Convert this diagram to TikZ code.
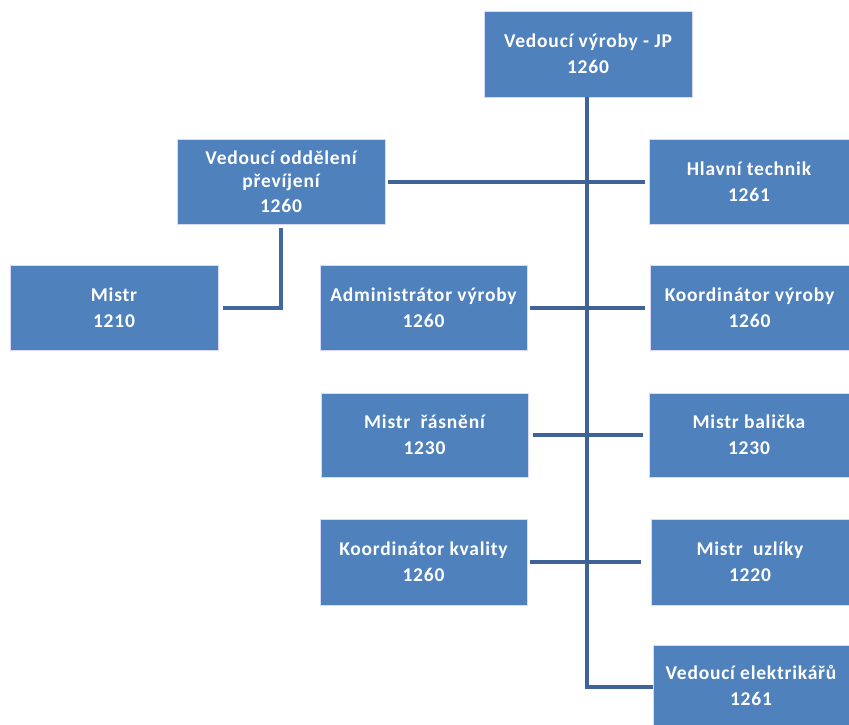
\documentclass[tikz,border=0pt]{standalone}
\usepackage{fontspec}
\setmainfont{Carlito}[LetterSpace=4]
\begin{document}
\begin{tikzpicture}[x=1pt,y=-1pt,
  box/.style={draw=white!85!blue, line width=0.6pt, fill=boxblue, text=white,
    font=\bfseries\fontsize{19.5}{26}\selectfont, align=center, inner sep=0pt},
  link/.style={draw=linkblue, line width=4pt},
]
\definecolor{boxblue}{HTML}{4F81BD}
\definecolor{linkblue}{HTML}{3F6398}
\useasboundingbox (0,0) rectangle (849,725);

% boxes
\node[box, minimum width=208, minimum height=86] (top)  at (588,54)    {Vedoucí výroby - JP\\1260};
\node[box, minimum width=208, minimum height=85] (odd)  at (281,181.5) {Vedoucí oddělení\\[-3pt]převíjení\\[-1pt]1260};
\node[box, minimum width=200, minimum height=85] (hlav) at (749,181.5) {Hlavní technik\\1261};
\node[box, minimum width=208, minimum height=85] (mis)  at (114,307.5) {Mistr\\1210};
\node[box, minimum width=207, minimum height=85] (adm)  at (423.5,307.5) {Administrátor výroby\\1260};
\node[box, minimum width=199, minimum height=85] (kvy)  at (749.5,307.5) {Koordinátor výroby\\1260};
\node[box, minimum width=207, minimum height=84] (ras)  at (424.5,435) {Mistr~ řásnění\\1230};
\node[box, minimum width=200, minimum height=84] (bal)  at (749,435) {Mistr balička\\1230};
\node[box, minimum width=207, minimum height=86] (kva)  at (423.5,562) {Koordinátor kvality\\1260};
\node[box, minimum width=198, minimum height=86] (uzl)  at (750,562) {Mistr~ uzlíky\\1220};
\node[box, minimum width=196, minimum height=80] (ele)  at (751,685) {Vedoucí elektrikářů\\1261};

% connectors
\coordinate (trunkend) at (587,687);
\draw[link] (top.south -| trunkend) -- (trunkend) -- (trunkend -| ele.west);
\draw[link, shorten <=3pt, shorten >=4pt] (odd.east) -- (hlav.west);
\draw[link, shorten <=3pt, shorten >=5pt] (adm.east) -- (kvy.west);
\draw[link, shorten <=5pt, shorten >=6pt] (ras.east) -- (bal.west);
\draw[link, shorten <=3pt, shorten >=10pt] (kva.east) -- (uzl.west);
\draw[link, draw=linkblue!80!boxblue, shorten <=4pt, shorten >=5pt] (odd.south) |- (mis.east);
\end{tikzpicture}
\end{document}
